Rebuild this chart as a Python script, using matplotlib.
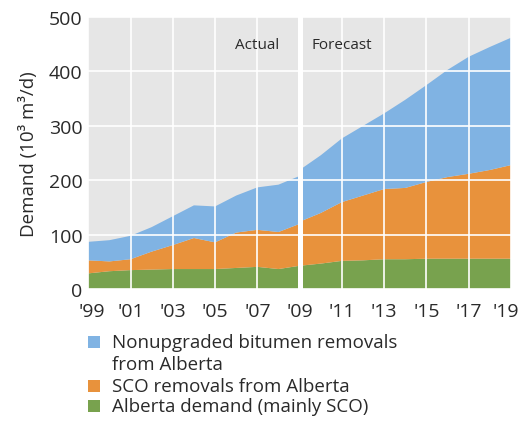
import numpy as np
import matplotlib
matplotlib.use("Agg")
import matplotlib.pyplot as plt
import matplotlib.transforms as mtransforms
from matplotlib.patches import Rectangle

plt.rcParams['font.family'] = ['Open Sans', 'DejaVu Sans']

# actual 1999-2009, forecast 2009-2019 (10^3 m3/d)
years_act = np.arange(1999, 2010)
years_fc = np.arange(2009, 2020)

ab_demand_act = [29, 33, 35, 36, 37, 37, 37, 39, 41, 37, 43]
sco_act = [24, 18, 20, 33, 44, 57, 49, 65, 68, 68, 77]
bitumen_act = [34, 39, 43, 45, 53, 60, 66, 68, 78, 87, 88]

ab_demand_fc = [43, 47, 52, 53, 55, 55, 56, 56, 56, 56, 56]
sco_fc = [81, 93, 108, 119, 129, 131, 141, 150, 156, 163, 172]
bitumen_fc = [95, 106, 117, 128, 139, 162, 178, 197, 215, 226, 234]

xtick_years = np.arange(1999, 2020, 2)
xtick_labels = ["'%02d" % (y % 100) for y in xtick_years]
yticks = [0, 100, 200, 300, 400, 500]

legend_labels = ["Nonupgraded bitumen removals\nfrom Alberta",
                 "SCO removals from Alberta",
                 "Alberta demand (mainly SCO)"]

c_blue = '#80b3e3'
c_orange = '#e8923c'
c_green = '#78a24e'
c_bg = '#e6e6e6'
c_text = '#2a2a2a'

fig = plt.figure(figsize=(5.22, 4.39), dpi=100)
ax = fig.add_axes([0.169, 0.339, 0.810, 0.620])
ax.set_facecolor(c_bg)

cols = [c_green, c_orange, c_blue]
ax.stackplot(years_act, ab_demand_act, sco_act, bitumen_act, colors=cols, lw=0)
ax.stackplot(years_fc, ab_demand_fc, sco_fc, bitumen_fc, colors=cols, lw=0)

ax.set_xlim(1999, 2019)
ax.set_ylim(0, 500)
ax.set_xticks(xtick_years)
ax.set_xticklabels(xtick_labels)
ax.set_yticks(yticks)
ax.grid(True, color='white', lw=1.2)
ax.set_axisbelow(False)
for s in ax.spines.values():
    s.set_visible(False)
ax.tick_params(length=0, labelsize=14, colors=c_text)
ax.tick_params(axis='x', pad=9)
ax.tick_params(axis='y', pad=4)

# nudge end labels inwards like the original
lbls = ax.get_xticklabels()
lbls[0].set_transform(lbls[0].get_transform() +
                      mtransforms.ScaledTranslation(4 / 100, 0, fig.dpi_scale_trans))
lbls[-1].set_transform(lbls[-1].get_transform() +
                       mtransforms.ScaledTranslation(-5 / 100, 0, fig.dpi_scale_trans))

# gap between actual and forecast
ax.axvline(2009, color='white', lw=3.6)

ax.text(2007.0, 449, "Actual", ha='center', va='center', fontsize=11, color=c_text)
ax.text(2011.0, 449, "Forecast", ha='center', va='center', fontsize=11, color=c_text)

ax.set_ylabel("Demand (10\u00b3 m\u00b3/d)", fontsize=13.5, color=c_text, labelpad=8)

# legend drawn by hand
sq = 12 / 522.0
legend_rows = [343, 387, 407]
for ytxt, lab, col in zip(legend_rows, legend_labels, [c_blue, c_orange, c_green]):
    yf = 1 - ytxt / 439.0
    fig.add_artist(Rectangle((88 / 522.0, yf - 6 / 439.0), sq, 12 / 439.0,
                             color=col, transform=fig.transFigure, lw=0))
    fig.text(112 / 522.0, yf + 9 / 439.0, lab, ha='left', va='top', fontsize=13.5,
             color=c_text, linespacing=1.3)

fig.savefig("out.png", dpi=100)
